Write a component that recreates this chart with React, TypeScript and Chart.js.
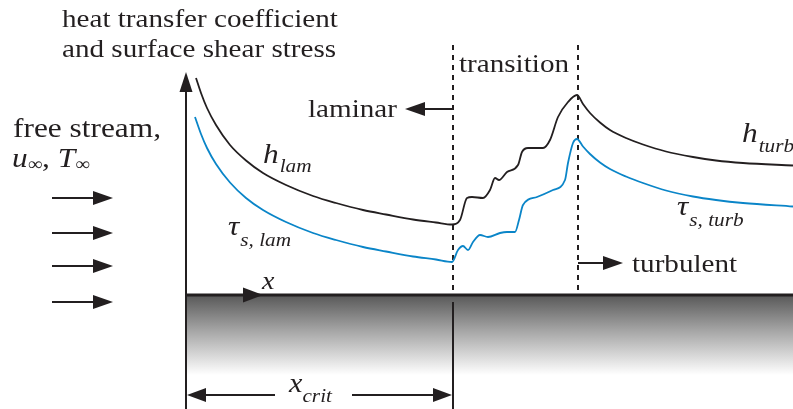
import React, { useEffect, useRef } from "react";
import { Chart, registerables } from "chart.js";

Chart.register(...registerables);

// Data units: x = distance from leading edge, y = local coefficient value (schematic)
const hX = [10, 15, 21, 30, 44, 60, 77, 100, 127, 150, 177, 200, 227, 250, 266, 274, 281, 286, 297, 304, 309, 313, 321, 332, 336, 342, 357, 364, 372, 382, 391, 397, 404, 414, 424, 440, 457, 480, 507, 530, 557, 607];
const hY = [217, 202, 187, 170, 150, 134.5, 122, 110, 99, 92, 85, 80.5, 75.5, 72.5, 70.5, 75, 97, 98, 97, 105, 117, 115, 123, 130, 143, 147, 147, 155, 178, 193, 200, 191, 182, 172.5, 165, 157, 150.5, 143.5, 138, 134.5, 132, 129.5];
const tauX = [9, 15, 21, 30, 44, 60, 77, 100, 127, 150, 177, 200, 227, 250, 266, 272, 277, 282, 287, 294, 302, 314, 321, 329, 333, 337, 351, 367, 379, 382, 387, 391, 397, 404, 414, 424, 440, 457, 480, 507, 530, 557, 607];
const tauY = [178, 161, 147, 131, 112.5, 97, 85, 73, 62, 55, 48, 43.5, 38.5, 35.5, 33, 45, 49, 45, 53, 60, 58, 62, 63, 63, 75, 90, 98, 105, 115, 132, 152, 156, 148.5, 141, 132.5, 126, 118.5, 112, 104.5, 98.5, 95, 92, 88.5];
const regionBounds = [267, 392]; // x_crit (laminar end) and turbulent start
const plateLength = 607;
const plateDepth = -114;
const flowArrowY = [97, 62, 29, -7];

const SX = 1.12;
const INK = "#231f20";
const BLUE = "#0a85c8";
const FONT = "'Liberation Serif', 'Times New Roman', serif";

type Run = { t: string; size: number; italic?: boolean; dy?: number; gap?: number };

function drawRuns(ctx: CanvasRenderingContext2D, x: number, y: number, runs: Run[]) {
  let cx = x;
  for (const r of runs) {
    ctx.font = `${r.italic ? "italic " : ""}${r.size}px ${FONT}`;
    ctx.save();
    ctx.translate(cx, y + (r.dy || 0));
    ctx.scale(SX, 1);
    ctx.fillText(r.t, 0, 0);
    ctx.restore();
    cx += ctx.measureText(r.t).width * SX + (r.gap || 0);
  }
}

function arrowHead(ctx: CanvasRenderingContext2D, tx: number, ty: number, dir: "l" | "r" | "u", len = 20, half = 7) {
  ctx.beginPath();
  if (dir === "r") {
    ctx.moveTo(tx, ty);
    ctx.lineTo(tx - len, ty - half);
    ctx.lineTo(tx - len, ty + half);
  } else if (dir === "l") {
    ctx.moveTo(tx, ty);
    ctx.lineTo(tx + len, ty - half);
    ctx.lineTo(tx + len, ty + half);
  } else {
    ctx.moveTo(tx, ty);
    ctx.lineTo(tx - half, ty + len);
    ctx.lineTo(tx + half, ty + len);
  }
  ctx.closePath();
  ctx.fill();
}

function line(ctx: CanvasRenderingContext2D, x1: number, y1: number, x2: number, y2: number, w: number) {
  ctx.lineWidth = w;
  ctx.beginPath();
  ctx.moveTo(x1, y1);
  ctx.lineTo(x2, y2);
  ctx.stroke();
}

const decorations = {
  id: "decorations",
  beforeDatasetsDraw(chart: any) {
    const ctx: CanvasRenderingContext2D = chart.ctx;
    const xs = chart.scales.x;
    const ys = chart.scales.y;
    const X = (v: number) => xs.getPixelForValue(v);
    const Y = (v: number) => ys.getPixelForValue(v);
    ctx.save();
    const top = Y(0);
    const bottom = Y(plateDepth);
    const g = ctx.createLinearGradient(0, top, 0, top + 80);
    g.addColorStop(0, "#585858");
    g.addColorStop(0.45, "#a6a6a6");
    g.addColorStop(1, "#ffffff");
    ctx.fillStyle = g;
    ctx.fillRect(X(0), top, X(plateLength) - X(0), bottom - top);
    ctx.restore();
  },
  afterDatasetsDraw(chart: any) {
    const ctx: CanvasRenderingContext2D = chart.ctx;
    const xs = chart.scales.x;
    const ys = chart.scales.y;
    const X = (v: number) => xs.getPixelForValue(v);
    const Y = (v: number) => ys.getPixelForValue(v);
    ctx.save();
    ctx.strokeStyle = INK;
    ctx.fillStyle = INK;
    ctx.lineCap = "butt";

    // plate top surface
    line(ctx, X(0), Y(0), X(plateLength), Y(0), 3);
    // vertical axis / plate leading edge
    line(ctx, X(0), Y(plateDepth), X(0), Y(205), 2);
    arrowHead(ctx, X(0), Y(223), "u", 20, 6.5);
    // x arrow on plate
    arrowHead(ctx, X(77), Y(0), "r", 20, 7.5);
    drawRuns(ctx, X(76), Y(6), [{ t: "x", size: 25, italic: true }]);

    // extension line at x_crit below plate
    line(ctx, X(regionBounds[0]), Y(-7), X(regionBounds[0]), Y(plateDepth), 2);
    // x_crit dimension
    const dy = Y(-100);
    line(ctx, X(18), dy, X(89), dy, 2);
    arrowHead(ctx, X(1), dy, "l", 19, 7);
    line(ctx, X(166), dy, X(248), dy, 2);
    arrowHead(ctx, X(regionBounds[0] - 1), dy, "r", 19, 7);
    drawRuns(ctx, X(103), Y(-97), [
      { t: "x", size: 27, italic: true },
      { t: "crit", size: 19, italic: true, dy: 10 },
    ]);

    // free-stream arrows
    for (const fy of flowArrowY) {
      line(ctx, X(-134), Y(fy), X(-92), Y(fy), 2);
      arrowHead(ctx, X(-73), Y(fy), "r", 20, 7);
    }

    // laminar arrow
    line(ctx, X(regionBounds[0] - 1), Y(186), X(238), Y(186), 2);
    arrowHead(ctx, X(219), Y(186), "l", 20, 7);
    // turbulent arrow
    line(ctx, X(regionBounds[1]), Y(32), X(418), Y(32), 2);
    arrowHead(ctx, X(437), Y(32), "r", 20, 7);

    // texts
    drawRuns(ctx, X(-124), Y(268), [{ t: "heat transfer coefficient", size: 26 }]);
    drawRuns(ctx, X(-124), Y(238), [{ t: "and surface shear stress", size: 26 }]);
    drawRuns(ctx, X(-173), Y(158), [{ t: "free stream,", size: 28 }]);
    drawRuns(ctx, X(-174), Y(128), [
      { t: "u", size: 28, italic: true },
      { t: "\u221e", size: 18, dy: 3 },
      { t: ", ", size: 28 },
      { t: "T", size: 28, italic: true },
      { t: "\u221e", size: 18, dy: 3 },
    ]);
    drawRuns(ctx, X(122), Y(178), [{ t: "laminar", size: 26 }]);
    drawRuns(ctx, X(273), Y(223), [{ t: "transition", size: 26 }]);
    drawRuns(ctx, X(446), Y(23), [{ t: "turbulent", size: 26 }]);

    drawRuns(ctx, X(77), Y(132), [
      { t: "h", size: 28, italic: true, gap: 1 },
      { t: "lam", size: 19, italic: true, dy: 9 },
    ]);
    drawRuns(ctx, X(42), Y(60), [
      { t: "\u03c4", size: 28, italic: true, gap: 1 },
      { t: "s, lam", size: 19, italic: true, dy: 11 },
    ]);
    drawRuns(ctx, X(556), Y(153), [
      { t: "h", size: 28, italic: true, gap: 1 },
      { t: "turb", size: 19, italic: true, dy: 10 },
    ]);
    drawRuns(ctx, X(491), Y(80), [
      { t: "\u03c4", size: 28, italic: true, gap: 1 },
      { t: "s, turb", size: 19, italic: true, dy: 11 },
    ]);
    ctx.restore();
  },
};

export default function App() {
  const ref = useRef<HTMLCanvasElement | null>(null);
  useEffect(() => {
    if (!ref.current) return;
    const pts = (xa: number[], ya: number[]) => xa.map((x, i) => ({ x, y: ya[i] }));
    const chart = new Chart(ref.current, {
      type: "line",
      data: {
        datasets: [
          {
            label: "h",
            data: pts(hX, hY),
            borderColor: INK,
            borderWidth: 1.8,
            pointRadius: 0,
            cubicInterpolationMode: "monotone",
            fill: false,
          },
          {
            label: "tau",
            data: pts(tauX, tauY),
            borderColor: BLUE,
            borderWidth: 1.8,
            pointRadius: 0,
            cubicInterpolationMode: "monotone",
            fill: false,
          },
          ...regionBounds.map((b, i) => ({
            label: "bound" + i,
            data: [
              { x: b, y: 250 },
              { x: b, y: 2 },
            ],
            borderColor: INK,
            borderWidth: 2,
            borderDash: [5, 5],
            pointRadius: 0,
            tension: 0,
            fill: false,
          })),
        ],
      } as any,
      options: {
        animation: false,
        responsive: false,
        maintainAspectRatio: false,
        layout: { padding: 0 },
        plugins: { legend: { display: false }, tooltip: { enabled: false } },
        scales: {
          x: { type: "linear", min: -186, max: 607, display: false },
          y: { type: "linear", min: -114, max: 295, display: false },
        },
      } as any,
      plugins: [decorations],
    });
    return () => chart.destroy();
  }, []);
  return (
    <div style={{ position: "fixed", left: 0, top: 0, width: 793, height: 409, background: "#fff" }}>
      <canvas ref={ref} width={793} height={409} style={{ display: "block" }} />
    </div>
  );
}
